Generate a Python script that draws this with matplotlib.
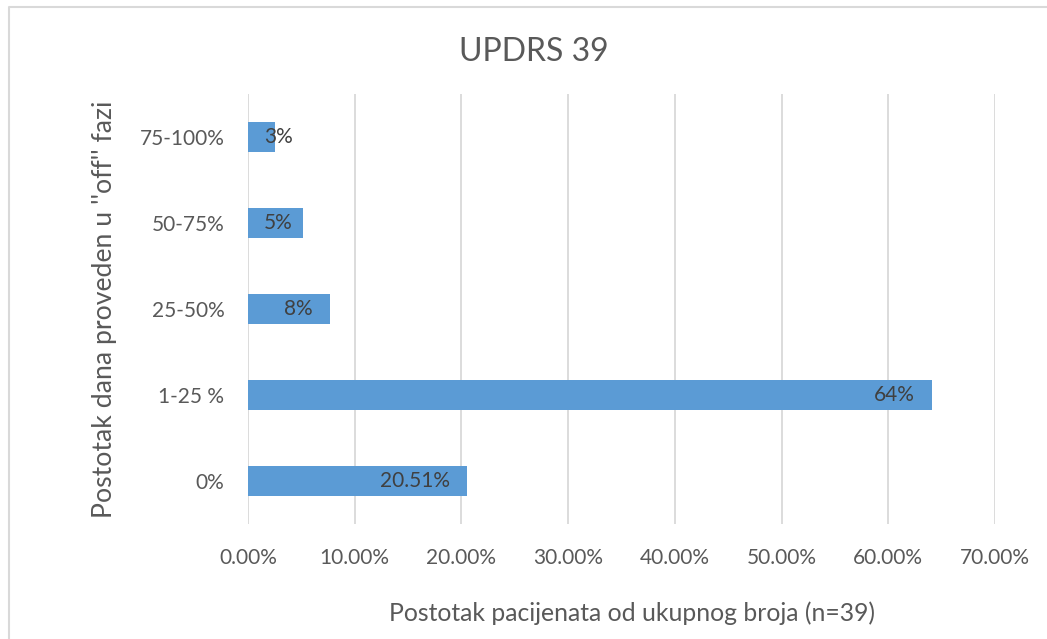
import matplotlib.pyplot as plt
from matplotlib.lines import Line2D
from matplotlib.ticker import FuncFormatter

plt.rcParams['font.family'] = ['Lato', 'DejaVu Sans']

categories = ['0%', '1-25 %', '25-50%', '50-75%', '75-100%']
values = [20.51, 64.10, 7.69, 5.13, 2.56]
labels = ['20.51%', '64%', '8%', '5%', '3%']
xticks = [0, 10, 20, 30, 40, 50, 60, 70]

W, H = 1047, 639
fig = plt.figure(figsize=(W / 100, H / 100), dpi=100)
ax = fig.add_axes([248 / W, 1 - 524 / H, (995 - 248) / W, (524 - 94) / H])

ypos = range(len(categories))
ax.barh(ypos, values, height=0.36, color='#5b9bd5', zorder=3)

# data labels, inside end (small bars pushed to the left edge)
for y, v, lab in zip(ypos, values, labels):
    if v < 6:
        ax.text(1.5, y, lab, ha='left', va='center', fontsize=15, color='#404040', zorder=4)
    else:
        ax.text(v - 1.6, y, lab, ha='right', va='center', fontsize=15, color='#404040', zorder=4)

ax.set_xlim(0, 70)
ax.set_ylim(-0.5, len(categories) - 0.5)
ax.set_xticks(xticks)
ax.xaxis.set_major_formatter(FuncFormatter(lambda x, p: f'{x:.2f}%'))
ax.set_yticks(list(ypos))
ax.set_yticklabels(categories)
ax.tick_params(axis='both', length=0, labelsize=15, labelcolor='#595959')
ax.tick_params(axis='y', pad=17)
ax.tick_params(axis='x', pad=17)
ax.grid(axis='x', color='#d9d9d9', lw=1.3, zorder=0)
for s in ax.spines.values():
    s.set_visible(False)

ax.set_xlabel('Postotak pacijenata od ukupnog broja (n=39)', fontsize=17.8, color='#595959', labelpad=24)
ax.xaxis.label.set_x(0.514)
ax.set_ylabel('Postotak dana proveden u \'\'off\'\' fazi', fontsize=19.2, color='#595959', labelpad=16)

fig.text(0.51, 1 - 52 / H, 'UPDRS 39', ha='center', va='center', fontsize=23,
         color='#595959')

# chart area border (left and top visible)
fig.add_artist(Line2D([9 / W, 9 / W, 1], [0, 1 - 7 / H, 1 - 7 / H], transform=fig.transFigure,
                      color='#d9d9d9', lw=1.5))

fig.savefig('out.png', dpi=100)
